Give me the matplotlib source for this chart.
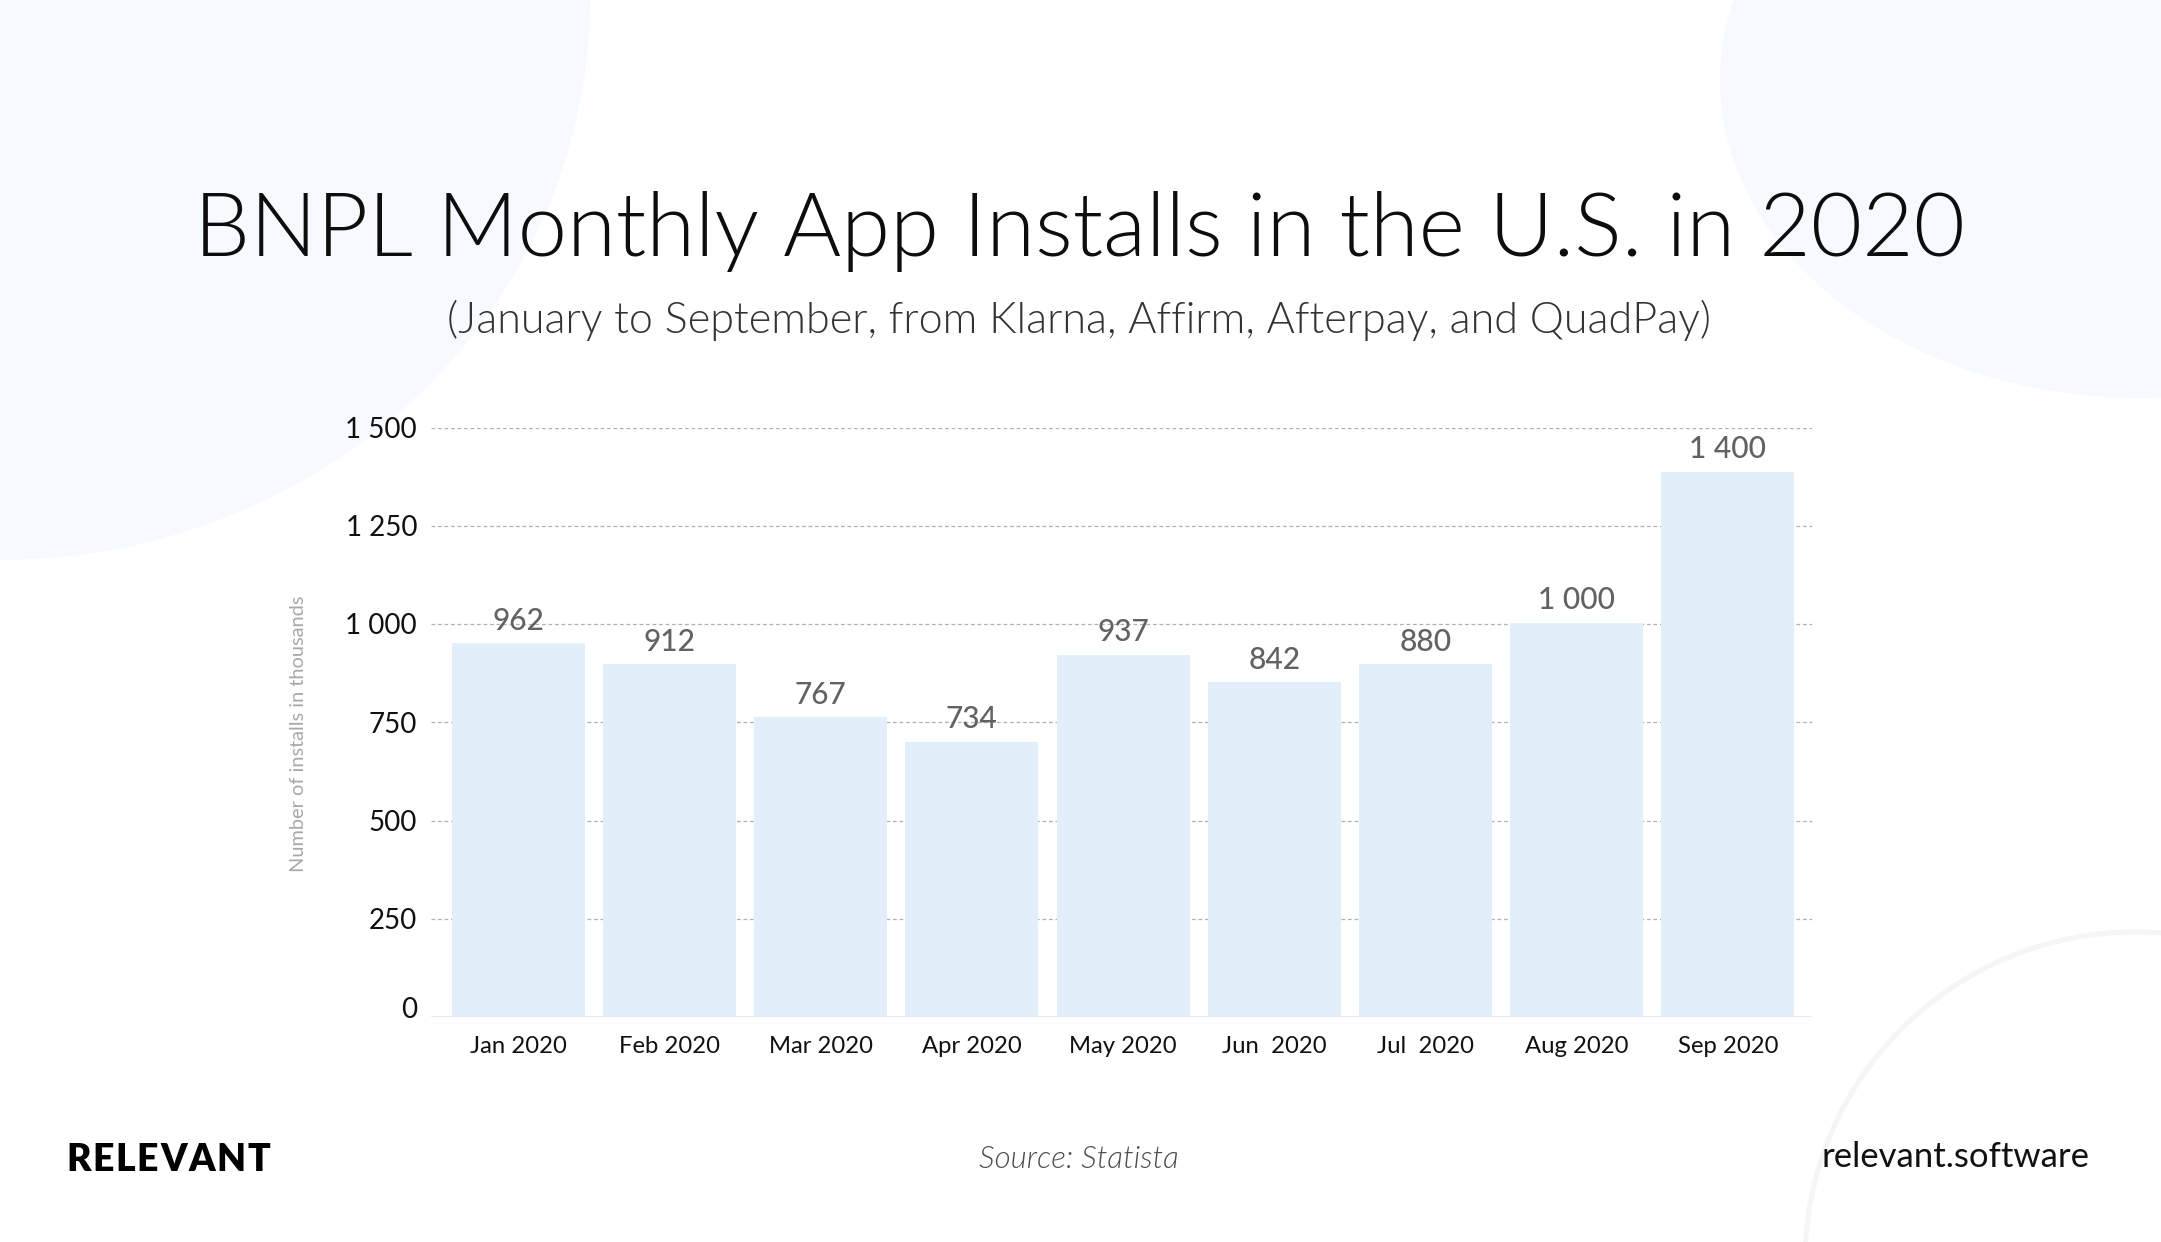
import matplotlib
matplotlib.use("Agg")
import matplotlib.pyplot as plt
from matplotlib.patches import Ellipse, Circle
import matplotlib.transforms as mtransforms
import numpy as np

# ---------------- data ----------------
months = ["Jan 2020", "Feb 2020", "Mar 2020", "Apr 2020", "May 2020",
          "Jun  2020", "Jul  2020", "Aug 2020", "Sep 2020"]
value_labels = ["962", "912", "767", "734", "937", "842", "880", "1 000", "1 400"]
bar_heights = [951, 897, 763, 701, 922, 852, 898, 1003, 1388]
y_ticks = [0, 250, 500, 750, 1000, 1250, 1500]
y_tick_labels = ["0", "250", "500", "750", "1 000", "1 250", "1 500"]

title = "BNPL Monthly App Installs in the U.S. in 2020"
subtitle = "(January to September, from Klarna, Affirm, Afterpay, and QuadPay)"
y_label = "Number of installs in thousands"
source = "Source: Statista"
brand = "RELEVANT"
site = "relevant.software"

plt.rcParams["font.family"] = ["Lato", "DejaVu Sans"]

W, H = 2161, 1242
DPI = 100
fig = plt.figure(figsize=(W / DPI, H / DPI), dpi=DPI, facecolor="white")

# ---------------- background decoration ----------------
bg = fig.add_axes([0, 0, 1, 1], zorder=0)
bg.set_xlim(0, W)
bg.set_ylim(H, 0)
bg.axis("off")
bg.add_patch(Ellipse((0, 0), 2 * 590, 2 * 560, color="#f6fafe", lw=0))
bg.add_patch(Ellipse((2140, 80), 840, 636, color="#f6fafe", lw=0))
bg.add_patch(Circle((2135, 1262), 330, fill=False, ec="#f4f5f7", lw=3.6))

# ---------------- chart ----------------
ax = fig.add_axes([431 / W, 1 - 1017 / H, (1812 - 431) / W, (1017 - 427.5) / H], zorder=1)
ax.patch.set_alpha(0)
x = np.arange(len(months))
ax.bar(x, bar_heights, width=0.88, color="#e2effa", zorder=2)
ax.set_xlim(-0.577, 8.556)
ax.set_ylim(0, 1500)

for t in y_ticks[1:]:
    ax.axhline(t, color="#b0b0b0", lw=0.9, ls=(0, (3, 2.2)), zorder=1)
ax.axhline(0, color="#e4edf6", lw=1.6, zorder=3)

for s in ax.spines.values():
    s.set_visible(False)

ax.set_yticks(y_ticks)
ax.set_yticklabels(y_tick_labels, fontsize=20, color="#111111")
ax.set_xticks(x)
ax.set_xticklabels(months, fontsize=17.2, color="#111111")
ax.tick_params(axis="y", length=0, pad=10)
ax.tick_params(axis="x", length=0, pad=14)

# the "0" label sits a little above the baseline
lab0 = ax.yaxis.get_major_ticks()[0].label1
lab0.set_transform(lab0.get_transform() +
                   mtransforms.ScaledTranslation(0, 0.09, fig.dpi_scale_trans))

for xi, h, lbl in zip(x, bar_heights, value_labels):
    ax.annotate(lbl, (xi, h), xytext=(0, 6), textcoords="offset points",
                ha="center", va="bottom", fontsize=21.5, fontweight="medium",
                color="#626262", annotation_clip=False)

fig.text(298 / W, 1 - 734 / H, y_label, rotation=90, ha="center", va="center",
         fontsize=14.4, color="#a8a8a8")

# ---------------- titles & footer ----------------
fig.text(1079 / W, 1 - 256 / H, title, ha="center", va="baseline",
         fontsize=63.8, fontweight=300, color="#0d0d0d")
fig.text(1079 / W, 1 - 333 / H, subtitle, ha="center", va="baseline",
         fontsize=31.1, fontweight=300, color="#333333")

renderer = fig.canvas.get_renderer()
xpos = 66
for ch in brand:
    t = fig.text(xpos / W, 1 - 1160 / H, ch, ha="left", va="center",
                 fontsize=27, fontweight="heavy", color="#000000")
    xpos += t.get_window_extent(renderer).width + 1.7

fig.text(1079 / W, 1 - 1159 / H, source, ha="center", va="center",
         fontsize=22.5, style="italic", fontweight=300, color="#4d4d4d")
fig.text(2089 / W, 1 - 1157 / H, site, ha="right", va="center",
         fontsize=25, color="#111111")

fig.savefig("out.png", dpi=DPI, facecolor="white")
